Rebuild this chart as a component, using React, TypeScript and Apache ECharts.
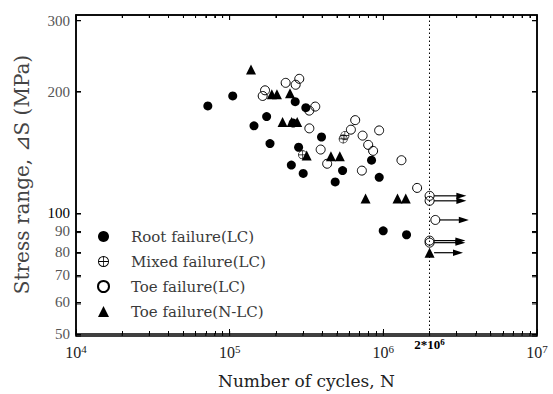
import React, { useEffect, useRef } from "react";
import * as echarts from "echarts";

// ---------- data ----------
const rootN = [72100, 104700, 144000, 174000, 183000, 267000, 313000, 259000, 281000, 252000, 301000, 396000, 486000, 543000, 838000, 940000, 998000, 1416000];
const rootS = [184.3, 195.1, 164.5, 173.4, 148.6, 188.8, 182.5, 167.1, 145.5, 131.4, 125.3, 154.3, 119.3, 127.3, 135.1, 122.5, 90.2, 88.2];

const mixedN = [298500, 548000, 562000];
const mixedS = [139.3, 152.6, 155.5];

const toeLCN = [169900, 164000, 231400, 283800, 268800, 329600, 360600, 330000, 391000, 431000, 615000, 656000, 733000, 797000, 858000, 939000, 725000, 1312000, 1659000, 2000000, 2000000, 2180000, 2000000, 2000000];
const toeLCS = [201.5, 195.1, 210.3, 215.2, 208, 179.4, 183.6, 162.1, 143.6, 132.4, 160.9, 169.9, 155.5, 147.5, 142.5, 160.2, 127.3, 135.1, 115.3, 110.2, 107.1, 96, 85.3, 84.3];

const toeNLCN = [137700, 188000, 203000, 247000, 221000, 253000, 275000, 317000, 456000, 521000, 766000, 1236000, 1399000, 2000000];
const toeNLCS = [227, 197, 197, 198.1, 168, 168, 168, 138.8, 138.2, 138.2, 108.6, 108.6, 108.6, 79.6];

// run-out specimens (arrows)
const runoutStartN = [2000000, 2000000, 2180000, 2000000, 2000000, 2000000];
const runoutS = [110.2, 107.1, 96, 85.3, 84.3, 79.6];
const runoutEndN = [3470000, 3470000, 3600000, 3420000, 3420000, 3300000];

const seriesNames = ["Root failure(LC)", "Mixed failure(LC)", "Toe failure(LC)", "Toe failure(N-LC)"];

// axis ticks / labels (raw values; both axes are logarithmic)
const xMajorTicks = [1e4, 1e5, 1e6, 1e7];
const xMinorTicks = [2e4, 3e4, 4e4, 5e4, 6e4, 7e4, 8e4, 9e4, 2e5, 3e5, 4e5, 5e5, 6e5, 7e5, 8e5, 9e5, 2e6, 3e6, 4e6, 5e6, 6e6, 7e6, 8e6, 9e6];
const xSpecialLabel = [2e6];
const yTicks = [50, 60, 70, 80, 90, 100, 200, 300];
const endurance = 2e6;
const X_MIN = 1e4;
const X_MAX = 1e7;
const Y_MIN = 50;
const Y_MAX = 310;

const L = (v: number) => Math.log10(v);
const zipLog = (a: number[], b: number[]) => a.map((v, i) => [L(v), L(b[i])]);

const MIXED_SYMBOL =
  "path://M10,0 A10,10 0 1,1 10,20 A10,10 0 1,1 10,0 Z M10,1.6 A8.4,8.4 0 1,0 10,18.4 A8.4,8.4 0 1,0 10,1.6 Z M1,9.3 L19,9.3 L19,10.7 L1,10.7 Z M9.3,1 L10.7,1 L10.7,19 L9.3,19 Z";

const SERIF = "Liberation Serif";
const WIDE_SERIF = "DejaVu Serif";

const GRID = { left: 76, right: 16, top: 15, bottom: 58 };
const W = 553;
const H = 394;

export default function App() {
  const ref = useRef<HTMLDivElement>(null);

  useEffect(() => {
    if (!ref.current) return;
    const chart = echarts.init(ref.current, undefined, { renderer: "svg" });

    const left = GRID.left;
    const top = GRID.top;
    const right = W - GRID.right;
    const bottom = H - GRID.bottom;
    const plotW = right - left;
    const plotH = bottom - top;

    const xMin = L(X_MIN);
    const xMax = L(X_MAX);
    const yMin = L(Y_MIN);
    const yMax = L(Y_MAX);
    const xMajor = xMajorTicks.map(L);
    const xMinor = xMinorTicks.map(L);
    const yMajor = yTicks.map(L);

    const axisLineStyle = { color: "#000", width: 1.5 };
    const tickLine = { color: "#000", width: 1 };

    const xBase = {
      type: "value" as const,
      min: xMin,
      max: xMax,
      splitLine: { show: false },
      minorTick: { show: false },
      axisPointer: { show: false },
    };
    const yBase = {
      type: "value" as const,
      min: yMin,
      max: yMax,
      splitLine: { show: false },
      minorTick: { show: false },
      axisPointer: { show: false },
    };

    // backup frame / ticks in the same (linear in log) mapping as the axes
    const xPos = (lv: number) => left + ((lv - xMin) / (xMax - xMin)) * plotW;
    const yPos = (lv: number) => bottom - ((lv - yMin) / (yMax - yMin)) * plotH;
    const seg = (x1: number, y1: number, x2: number, y2: number) => ({
      type: "line",
      shape: { x1, y1, x2, y2 },
      style: { stroke: "#000", lineWidth: 1 },
      silent: true,
      z: 10,
    });
    const graphicEls: any[] = [
      {
        type: "rect",
        shape: { x: left, y: top, width: plotW, height: plotH },
        style: { fill: "none", stroke: "#000", lineWidth: 1.5 },
        silent: true,
        z: 10,
      },
    ];
    xMajor.forEach((lv) => {
      const x = xPos(lv);
      graphicEls.push(seg(x, bottom, x, bottom - 5), seg(x, top, x, top + 5));
    });
    xMinor.forEach((lv) => {
      const x = xPos(lv);
      graphicEls.push(seg(x, bottom, x, bottom - 3), seg(x, top, x, top + 3));
    });
    yMajor.forEach((lv) => {
      const y = yPos(lv);
      graphicEls.push(seg(left, y, left + 5, y), seg(right, y, right - 5, y));
    });

    const option: any = {
      animation: false,
      backgroundColor: "#fff",
      grid: { ...GRID, containLabel: false },
      graphic: graphicEls,
      legend: {
        orient: "vertical",
        left: 92,
        top: 224,
        itemWidth: 11,
        itemHeight: 11,
        itemGap: 10,
        data: seriesNames,
        textStyle: {
          fontFamily: WIDE_SERIF,
          fontSize: 15,
          color: "#3a3a3a",
          lineHeight: 14,
          padding: [0, 0, 0, 17],
        },
      },
      xAxis: [
        {
          ...xBase,
          position: "bottom",
          axisLine: { show: true, onZero: false, lineStyle: axisLineStyle },
          axisTick: { show: true, inside: true, length: 5, customValues: xMajor, lineStyle: tickLine },
          axisLabel: {
            customValues: xMajor,
            margin: 9,
            formatter: (v: number) => `{b|10}{s|${Math.round(v)}}`,
            rich: {
              b: { fontFamily: SERIF, fontSize: 16, color: "#222", verticalAlign: "bottom" },
              s: { fontFamily: SERIF, fontSize: 11, color: "#222", verticalAlign: "top", padding: [0, 0, 6, 0] },
            },
          },
          name: "Number of cycles, N",
          nameLocation: "middle",
          nameGap: 38,
          nameTextStyle: { fontFamily: WIDE_SERIF, fontSize: 17, color: "#222" },
        },
        {
          ...xBase,
          position: "bottom",
          axisLine: { show: false },
          axisTick: { show: true, inside: true, length: 3, customValues: xMinor, lineStyle: tickLine },
          axisLabel: { show: false },
        },
        {
          ...xBase,
          position: "top",
          axisLine: { show: true, onZero: false, lineStyle: axisLineStyle },
          axisTick: { show: true, inside: true, length: 5, customValues: xMajor, lineStyle: tickLine },
          axisLabel: { show: false },
        },
        {
          ...xBase,
          position: "top",
          axisLine: { show: false },
          axisTick: { show: true, inside: true, length: 3, customValues: xMinor, lineStyle: tickLine },
          axisLabel: { show: false },
        },
        {
          ...xBase,
          position: "bottom",
          axisLine: { show: false },
          axisTick: { show: false },
          axisLabel: {
            customValues: xSpecialLabel.map(L),
            margin: 3,
            formatter: () => `{b|2*10}{s|6}`,
            rich: {
              b: { fontFamily: SERIF, fontSize: 13, fontWeight: "bold", color: "#000", verticalAlign: "bottom" },
              s: { fontFamily: SERIF, fontSize: 9, fontWeight: "bold", color: "#000", verticalAlign: "top", padding: [0, 0, 5, 0] },
            },
          },
        },
      ],
      yAxis: [
        {
          ...yBase,
          position: "left",
          axisLine: { show: true, onZero: false, lineStyle: axisLineStyle },
          axisTick: { show: true, inside: true, length: 5, customValues: yMajor, lineStyle: tickLine },
          axisLabel: {
            customValues: yMajor,
            margin: 6,
            formatter: (v: number) => {
              const n = Math.round(Math.pow(10, v));
              return n === 100 ? `{k|${n}}` : `{g|${n}}`;
            },
            rich: {
              g: { fontFamily: SERIF, fontSize: 15, color: "#555" },
              k: { fontFamily: SERIF, fontSize: 15, color: "#000" },
            },
          },
          name: "Stress range, ⊿S (MPa)",
          nameLocation: "middle",
          nameGap: 44,
          nameRotate: 90,
          nameTextStyle: { fontFamily: WIDE_SERIF, fontSize: 20, color: "#444" },
        },
        {
          ...yBase,
          position: "right",
          axisLine: { show: true, onZero: false, lineStyle: axisLineStyle },
          axisTick: { show: true, inside: true, length: 5, customValues: yMajor, lineStyle: tickLine },
          axisLabel: { show: false },
        },
      ],
      series: [
        {
          name: "arrows",
          type: "custom",
          silent: true,
          xAxisIndex: 0,
          yAxisIndex: 0,
          data: runoutStartN.map((n, i) => [L(n), L(runoutS[i]), L(runoutEndN[i])]),
          encode: { x: [0, 2], y: 1 },
          renderItem: (_p: any, api: any) => {
            const s = api.coord([api.value(0), api.value(1)]);
            const e = api.coord([api.value(2), api.value(1)]);
            const head = 10;
            return {
              type: "group",
              children: [
                {
                  type: "line",
                  shape: { x1: s[0] + 4.5, y1: s[1], x2: e[0] - head + 1, y2: e[1] },
                  style: { stroke: "#000", lineWidth: 1.2 },
                },
                {
                  type: "polygon",
                  shape: { points: [[e[0], e[1]], [e[0] - head, e[1] - 3.2], [e[0] - head, e[1] + 3.2]] },
                  style: { fill: "#000" },
                },
              ],
            };
          },
          z: 1,
        },
        {
          name: seriesNames[0],
          type: "scatter",
          xAxisIndex: 0,
          yAxisIndex: 0,
          data: zipLog(rootN, rootS),
          symbol: "circle",
          symbolSize: 9,
          itemStyle: { color: "#000", opacity: 1 },
          z: 3,
          markLine: {
            silent: true,
            symbol: ["none", "none"],
            label: { show: false },
            lineStyle: { type: [1.5, 2.5], color: "#000", width: 1 },
            data: [{ xAxis: L(endurance) }],
          },
        },
        {
          name: seriesNames[1],
          type: "scatter",
          xAxisIndex: 0,
          yAxisIndex: 0,
          data: zipLog(mixedN, mixedS),
          symbol: MIXED_SYMBOL,
          symbolSize: 9,
          itemStyle: { color: "#000", opacity: 1 },
          z: 3,
        },
        {
          name: seriesNames[2],
          type: "scatter",
          xAxisIndex: 0,
          yAxisIndex: 0,
          data: zipLog(toeLCN, toeLCS),
          symbol: "circle",
          symbolSize: 9,
          itemStyle: { color: "rgba(255,255,255,0)", borderColor: "#000", borderWidth: 1, opacity: 1 },
          z: 3,
        },
        {
          name: seriesNames[3],
          type: "scatter",
          xAxisIndex: 0,
          yAxisIndex: 0,
          data: zipLog(toeNLCN, toeNLCS),
          symbol: "triangle",
          symbolSize: 10,
          itemStyle: { color: "#000", opacity: 1 },
          z: 3,
        },
      ],
    };

    chart.setOption(option);
    return () => chart.dispose();
  }, []);

  return (
    <div
      ref={ref}
      style={{ position: "fixed", left: 0, top: 0, width: W, height: H, background: "#fff" }}
    />
  );
}
